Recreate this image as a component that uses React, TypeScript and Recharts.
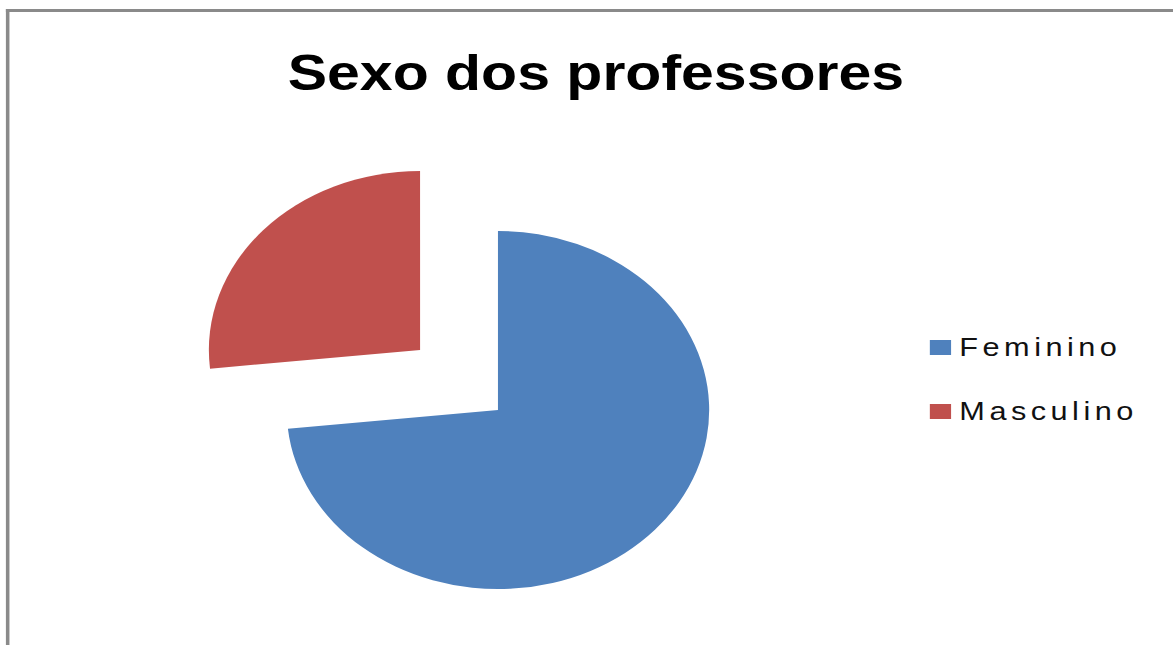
import { Cell, Legend, Pie, PieChart } from "recharts";

const categories = ["Feminino", "Masculino"];
const counts = [11, 4];
const colors = ["#4F81BD", "#C0504D"];

const data = categories.map((name, i) => ({ name, value: counts[i] }));

// the whole chart is drawn narrow and then stretched sideways
const STRETCH = 1.18;
const WIDTH = 994;
const HEIGHT = 645;
const FONT = '"Liberation Sans", Arial, sans-serif';

const LegendBox = () => (
  <div style={{ fontFamily: FONT }}>
    {categories.map((name, i) => (
      <div key={name} style={{ display: "flex", alignItems: "center", height: 64 }}>
        <span style={{ width: 18, height: 15, background: colors[i], marginRight: 7 }} />
        <span style={{ fontSize: 26, letterSpacing: 3.8, color: "#111" }}>{name}</span>
      </div>
    ))}
  </div>
);

export default function App() {
  return (
    <div
      style={{
        position: "absolute",
        left: 0,
        top: 0,
        width: WIDTH,
        height: HEIGHT,
        overflow: "hidden",
        background: "#fff",
        transform: `scaleX(${STRETCH})`,
        transformOrigin: "0 0",
      }}
    >
      <div
        style={{
          position: "absolute",
          left: 5,
          top: 9,
          width: WIDTH + 20,
          height: HEIGHT + 20,
          borderTop: "3px solid #8a8a8a",
          borderLeft: "3px solid #8a8a8a",
        }}
      />
      <div
        style={{
          position: "absolute",
          left: 505,
          top: 48,
          transform: "translateX(-50%)",
          whiteSpace: "nowrap",
          fontFamily: FONT,
          fontWeight: "bold",
          fontSize: 50,
          lineHeight: "50px",
          color: "#000",
        }}
      >
        Sexo dos professores
      </div>
      <PieChart
        width={WIDTH}
        height={HEIGHT}
        margin={{ top: 0, right: 0, bottom: 0, left: 0 }}
        style={{ position: "absolute", left: 0, top: 0 }}
      >
        {/* main pie: only the Feminino slice is filled */}
        <Pie
          data={data}
          dataKey="value"
          nameKey="name"
          cx={422}
          cy={410}
          outerRadius={179}
          startAngle={90}
          endAngle={-270}
          stroke="none"
          isAnimationActive={false}
        >
          {data.map((d, i) => (
            <Cell key={d.name} fill={i === 0 ? colors[i] : "none"} />
          ))}
        </Pie>
        {/* exploded Masculino slice, same angles, shifted centre */}
        <Pie
          data={data}
          dataKey="value"
          nameKey="name"
          cx={356}
          cy={350}
          outerRadius={179}
          startAngle={90}
          endAngle={-270}
          stroke="none"
          isAnimationActive={false}
        >
          {data.map((d, i) => (
            <Cell key={d.name} fill={i === 1 ? colors[i] : "none"} />
          ))}
        </Pie>
        <Legend
          content={<LegendBox />}
          wrapperStyle={{ left: 788, top: 315, width: "auto", bottom: "auto", right: "auto" }}
        />
      </PieChart>
    </div>
  );
}
